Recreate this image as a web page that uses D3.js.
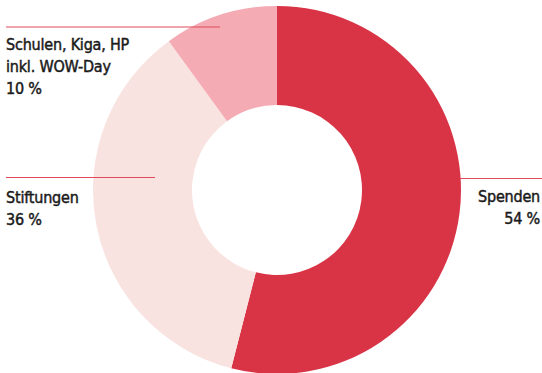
<!DOCTYPE html>
<html>
<head>
<meta charset="utf-8">
<script src="https://cdn.jsdelivr.net/npm/d3@7"></script>
<style>
  html, body { margin: 0; padding: 0; background: #fff; }
  svg { display: block; }
  .lbl { font-family: "DejaVu Sans Condensed", "Liberation Sans Narrow", sans-serif; font-size: 16px; fill: #1a1a1a; stroke: #1a1a1a; stroke-width: 0.45px; letter-spacing: -0.2px; }
</style>
</head>
<body>
<svg id="chart" width="542" height="373"></svg>
<script>
// Funding sources donut
const categories = ['Spenden', 'Stiftungen', 'Schulen, Kiga, HP inkl. WOW-Day'];
const shares = [54, 36, 10];
const labelLines = [['Spenden', '54 %'], ['Stiftungen', '36 %'], ['Schulen, Kiga, HP', 'inkl. WOW-Day', '10 %']];
const colors = ['#d93446', '#f9e3e1', '#f4abb3'];

const svg = d3.select('#chart');
const cx = 277, cy = 190;
const outerR = 184, innerR = 85;

const pie = d3.pie().sort(null).value(d => d);
const arc = d3.arc().innerRadius(innerR).outerRadius(outerR);

svg.append('g')
  .attr('transform', `translate(${cx},${cy})`)
  .selectAll('path')
  .data(pie(shares))
  .join('path')
  .attr('d', arc)
  .attr('fill', (d, i) => colors[i]);

// label positions: rule line + text block
const labels = [
  { x1: 460, x2: 542, ly: 178.5, tx: 540, ty: 202, anchor: 'end' },
  { x1: 6, x2: 155, ly: 177.5, tx: 6, ty: 203, anchor: 'start' },
  { x1: 6, x2: 220, ly: 27, tx: 6, ty: 50, anchor: 'start' }
];

const g = svg.append('g');
labels.forEach((l, i) => {
  g.append('line')
    .attr('x1', l.x1).attr('x2', l.x2)
    .attr('y1', l.ly).attr('y2', l.ly)
    .attr('stroke', '#e04a5a').attr('stroke-width', 1);
  const t = g.append('text')
    .attr('class', 'lbl')
    .attr('text-anchor', l.anchor);
  labelLines[i].forEach((s, j) => {
    t.append('tspan').attr('x', l.tx).attr('y', l.ty + j * 22).text(s);
  });
});
</script>
</body>
</html>
